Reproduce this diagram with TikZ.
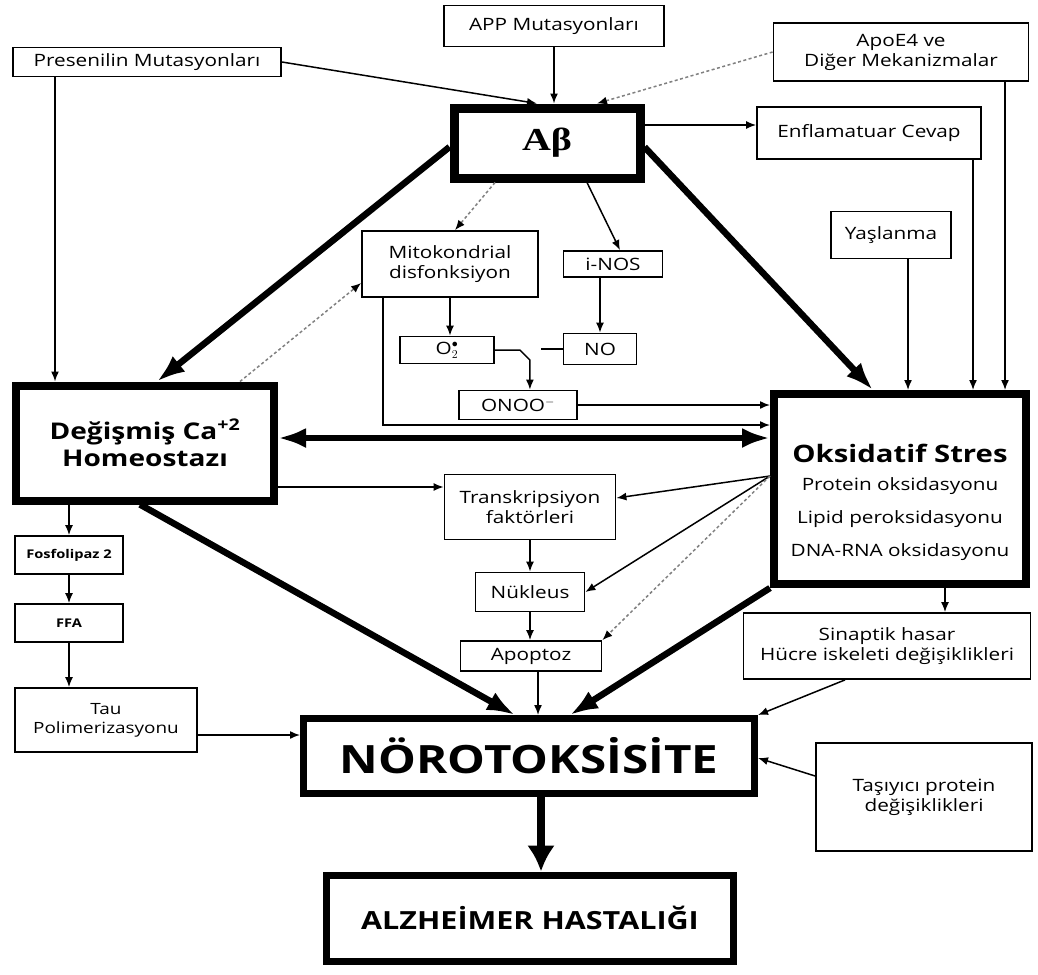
\documentclass[tikz,border=0pt]{standalone}
\usepackage{fontspec}
\setmainfont{Open Sans}[FakeStretch=1.22]
\newfontfamily\abfont{Liberation Serif}[FakeStretch=1.25]
\usetikzlibrary{arrows.meta}
\newcommand\fsz[2]{\fontsize{#1}{#2}\selectfont}

\begin{document}
\begin{tikzpicture}[x=1pt,y=-1pt,
    box/.style={draw,line width=1.8pt,fill=white,inner sep=2pt,align=center,font=\fsz{17}{20}},
    bigbox/.style={box,line width=8pt},
    arr/.style={line width=1.5pt,-{Latex[length=10pt,width=8pt]}},
    dots/.style={line width=1.5pt,draw=gray,dash pattern=on 3pt off 2.5pt,-{Latex[length=10pt,width=8pt,color=black]}},
    fat/.style={line width=6.5pt,-{Latex[length=28pt,width=20pt]}}]
    \useasboundingbox (0,0) rectangle (1038,974);

    \node[box,minimum width=220,minimum height=41] (app) at (554,26) {APP Mutasyonları};
    \node[box,minimum width=268,minimum height=29] (pres) at (147,62) {Presenilin Mutasyonları};
    \node[box,minimum width=255,minimum height=58] (apoe) at (901,52) {ApoE4 ve\\Diğer Mekanizmalar};
    \node[bigbox,line width=9pt,minimum width=186,minimum height=70,font=\abfont\fsz{32}{36}\bfseries] (ab) at (547,143) {Aβ};
    \node[box,minimum width=224,minimum height=52] (enf) at (869,133) {Enflamatuar Cevap};
    \node[box,minimum width=120,minimum height=47] (yas) at (891,235) {Yaşlanma};
    \node[box,minimum width=176,minimum height=66] (mito) at (450,264) {Mitokondrial\\disfonksiyon};
    \node[box,minimum width=99,minimum height=26] (inos) at (613,264) {i-NOS};
    \node[box,minimum width=94,minimum height=27] (o2) at (447,350) {O$_{2}^{\bullet}$};
    \node[box,minimum width=73,minimum height=31] (no) at (600,349) {NO};
    \node[box,minimum width=118,minimum height=29] (onoo) at (518,405) {ONOO\textsuperscript{$-$}};
    \node[bigbox,minimum width=258,minimum height=115,font=\fsz{23}{27}\bfseries] (ca) at (145,443) {Değişmiş Ca\textsuperscript{+2}\\Homeostazı};
    \node[bigbox,minimum width=252,minimum height=190] (ox) at (900,489)
        {\fsz{24}{28}\bfseries\rule{0pt}{46pt}Oksidatif Stres\\[8pt]\fsz{17}{20}\mdseries Protein oksidasyonu\\[13pt]Lipid peroksidasyonu\\[13pt]DNA-RNA oksidasyonu};
    \node[box,minimum width=171,minimum height=65] (tf) at (530,507) {Transkripsiyon\\faktörleri};
    \node[box,minimum width=109,minimum height=39] (nuk) at (530,592) {Nükleus};
    \node[box,minimum width=141,minimum height=30] (apop) at (531,656) {Apoptoz};
    \node[box,minimum width=108,minimum height=38,font=\fsz{12}{14}\bfseries] (fos) at (69,555) {Fosfolipaz 2};
    \node[box,minimum width=108,minimum height=38,font=\fsz{12}{14}\bfseries] (ffa) at (69,623) {FFA};
    \node[box,minimum width=182,minimum height=64,font=\fsz{15.5}{19}] (tau) at (106,720) {Tau\\Polimerizasyonu};
    \node[box,minimum width=287,minimum height=66] (sin) at (887,646) {Sinaptik hasar\\Hücre iskeleti değişiklikleri};
    \node[bigbox,line width=7pt,minimum width=451,minimum height=75,font=\fsz{39}{44}\bfseries] (noro) at (529,756) {NÖROTOKSİSİTE};
    \node[box,minimum width=216,minimum height=108] (tas) at (924,797) {Taşıyıcı protein\\değişiklikleri};
    \node[bigbox,line width=7pt,minimum width=407,minimum height=86,font=\fsz{25}{30}\bfseries] (alz) at (530,918) {ALZHEİMER HASTALIĞI};

    \draw[arr] (app.south) -- (app.south |- ab.north);
    \draw[arr] (pres.east) -- ([xshift=-10pt]ab.north);
    \draw[arr] ([xshift=-92pt]pres.south) -- ([xshift=-90pt]ca.north);
    \draw[dots] (apoe.west) -- ([xshift=50pt]ab.north);
    \draw[arr] ([xshift=104pt]apoe.south) -- ([xshift=105pt]ox.north);
    \draw[arr] ([yshift=18pt]ab.east) -- ([yshift=8pt]enf.west);
    \draw[arr] ([xshift=104pt]enf.south) -- ([xshift=73pt]ox.north);
    \draw[arr] ([xshift=17pt]yas.south) -- ([xshift=8pt]ox.north);
    \draw[fat] ([yshift=-4pt]ab.west) -- ([xshift=12pt]ca.north);
    \draw[fat] ([yshift=-4pt]ab.east) -- ([xshift=-27pt]ox.north);
    \draw[dots] ([xshift=-52pt]ab.south) -- ([xshift=5pt]mito.north);
    \draw[arr] ([xshift=40pt]ab.south) -- ([xshift=7pt]inos.north);
    \draw[dots] ([xshift=95pt]ca.north) -- ([yshift=-19pt]mito.west);
    \draw[arr] (mito.south) -- (mito.south |- o2.north);
    \draw[arr] (no.north |- inos.south) -- (no.north);
    \draw[arr] (o2.east) -- ++(25,0) -- ++(10,10) coordinate (kink) -- (kink |- onoo.north);
    \draw[line width=1.5pt] (no.west) -- ++(-22,0) coordinate (nostub);
    \draw[arr] (onoo.east) -- (onoo.east -| ox.west);
    \draw[arr] ([xshift=-67pt]mito.south) |- ([yshift=64pt]ox.west);
    \draw[fat,{Latex[length=28pt,width=20pt]}-{Latex[length=28pt,width=20pt]}] ([yshift=5pt]ca.east) -- ([yshift=51pt]ox.west);
    \coordinate (oxl) at ([yshift=13pt]ox.west);
    \draw[arr] (oxl) -- ([yshift=9pt]tf.east);
    \draw[arr] (oxl) -- (nuk.east);
    \draw[dots] (oxl) -- (apop.north east);
    \draw[arr] ([yshift=-44pt]ca.east) -- ([yshift=20pt]tf.west);
    \draw[arr] (tf.south) -- (nuk.north);
    \draw[arr] (nuk.south) -- (nuk.south |- apop.north);
    \draw[arr] ([xshift=7pt]apop.south) -- ([xshift=7pt]apop.south |- noro.north);
    \draw[fat] ([xshift=-5pt]ca.south) -- ([xshift=-14pt]noro.north);
    \draw[fat] (ox.south west) -- ([xshift=41pt]noro.north);
    \draw[arr] (ca.south -| fos.north) -- (fos.north);
    \draw[arr] (fos.south) -- (ffa.north);
    \draw[arr] (ffa.south) -- (ffa.south |- tau.north);
    \draw[arr] ([yshift=-15pt]tau.east) -- ([yshift=-15pt]tau.east -| noro.west);
    \draw[arr] ([xshift=45pt]ox.south) -- ([xshift=45pt]ox.south |- sin.north);
    \draw[arr] ([xshift=-42pt]sin.south) -- (noro.north east);
    \draw[arr] ([yshift=21pt]tas.west) -- ([yshift=-2pt]noro.east);
    \draw[fat,line width=8pt,-{Latex[length=26pt,width=28pt]}] ([xshift=12pt]noro.south) -- ([xshift=11pt]alz.north);
\end{tikzpicture}
\end{document}
